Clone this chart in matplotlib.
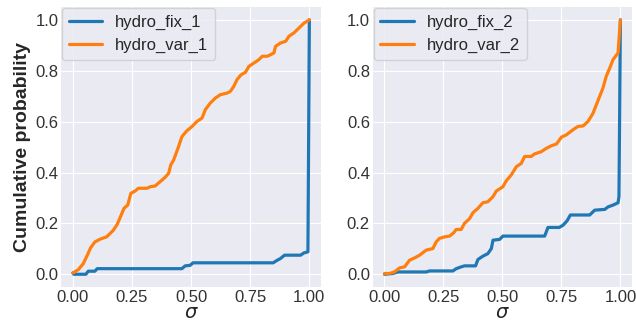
import numpy as np
import matplotlib
matplotlib.use("Agg")
import matplotlib.pyplot as plt

# empirical CDF breakpoints (sigma, cumulative probability)
fix_1_x = [0.0, 0.004, 0.055, 0.065, 0.093, 0.103, 0.461, 0.475, 0.496, 0.508,
           0.847, 0.864, 0.878, 0.895, 0.963, 0.977, 0.994, 1.0]
fix_1_y = [0.005, 0.0, 0.0, 0.012, 0.012, 0.022, 0.022, 0.033, 0.035, 0.045,
           0.045, 0.055, 0.062, 0.075, 0.075, 0.084, 0.088, 1.0]

var_1_x = [0.0, 0.023, 0.044, 0.061, 0.075, 0.093, 0.115, 0.143, 0.171, 0.188,
           0.207, 0.216, 0.232, 0.245, 0.263, 0.277, 0.313, 0.327, 0.348, 0.369,
           0.390, 0.405, 0.414, 0.426, 0.447, 0.461, 0.482, 0.504, 0.525, 0.546,
           0.560, 0.581, 0.603, 0.624, 0.652, 0.666, 0.680, 0.694, 0.711, 0.730,
           0.744, 0.765, 0.787, 0.801, 0.822, 0.836, 0.850, 0.857, 0.878, 0.900,
           0.914, 0.935, 0.956, 0.977, 1.0]
var_1_y = [0.005, 0.018, 0.042, 0.075, 0.104, 0.127, 0.138, 0.147, 0.173, 0.197,
           0.239, 0.259, 0.272, 0.318, 0.327, 0.338, 0.338, 0.344, 0.347, 0.364,
           0.381, 0.397, 0.430, 0.449, 0.502, 0.541, 0.564, 0.581, 0.601, 0.614,
           0.647, 0.673, 0.693, 0.706, 0.712, 0.719, 0.738, 0.765, 0.784, 0.794,
           0.817, 0.830, 0.844, 0.857, 0.857, 0.863, 0.870, 0.896, 0.909, 0.916,
           0.936, 0.949, 0.968, 0.987, 1.0]

fix_2_x = [0.0, 0.035, 0.057, 0.177, 0.191, 0.290, 0.304, 0.325, 0.339, 0.386,
           0.396, 0.417, 0.438, 0.453, 0.460, 0.488, 0.502, 0.679, 0.693, 0.741,
           0.757, 0.774, 0.788, 0.870, 0.891, 0.934, 0.948, 0.969, 0.990, 0.994,
           1.0]
fix_2_y = [0.0, 0.003, 0.009, 0.009, 0.013, 0.013, 0.022, 0.029, 0.033, 0.033,
           0.058, 0.071, 0.081, 0.101, 0.134, 0.137, 0.150, 0.150, 0.184, 0.184,
           0.193, 0.210, 0.233, 0.233, 0.252, 0.255, 0.265, 0.272, 0.281, 0.305,
           1.0]

var_2_x = [0.0, 0.021, 0.042, 0.064, 0.085, 0.106, 0.127, 0.149, 0.177, 0.205,
           0.219, 0.233, 0.255, 0.276, 0.293, 0.304, 0.325, 0.339, 0.361, 0.375,
           0.396, 0.417, 0.438, 0.460, 0.474, 0.502, 0.516, 0.537, 0.559, 0.580,
           0.594, 0.622, 0.636, 0.665, 0.686, 0.707, 0.729, 0.750, 0.771, 0.799,
           0.820, 0.842, 0.863, 0.884, 0.898, 0.912, 0.926, 0.940, 0.955, 0.969,
           0.990, 1.0]
var_2_y = [0.003, 0.003, 0.009, 0.025, 0.029, 0.055, 0.064, 0.075, 0.095, 0.101,
           0.127, 0.141, 0.147, 0.150, 0.163, 0.176, 0.176, 0.200, 0.219, 0.242,
           0.259, 0.281, 0.285, 0.305, 0.327, 0.344, 0.367, 0.390, 0.423, 0.436,
           0.463, 0.463, 0.473, 0.482, 0.495, 0.505, 0.512, 0.539, 0.548, 0.568,
           0.581, 0.583, 0.601, 0.633, 0.666, 0.699, 0.732, 0.778, 0.811, 0.844,
           0.870, 1.0]

ticks_x = [0.0, 0.25, 0.5, 0.75, 1.0]
ticks_y = [0.0, 0.2, 0.4, 0.6, 0.8, 1.0]

plt.style.use("seaborn-v0_8-darkgrid")
plt.rcParams["font.family"] = ["Liberation Sans", "DejaVu Sans"]
plt.rcParams["font.size"] = 12

fig = plt.figure(figsize=(6.36, 3.25), dpi=100)
ax1 = fig.add_axes([0.096, 0.117, 0.409, 0.861])
ax2 = fig.add_axes([0.586, 0.117, 0.408, 0.861])

panels = [
    (ax1, fix_1_x, fix_1_y, var_1_x, var_1_y, "1"),
    (ax2, fix_2_x, fix_2_y, var_2_x, var_2_y, "2"),
]
for ax, fx, fy, vx, vy, n in panels:
    ax.plot(fx, fy, color="#1f77b4", lw=2.3, label="hydro_fix_" + n)
    ax.plot(vx, vy, color="#ff7f0e", lw=2.3, label="hydro_var_" + n)
    ax.set_xlim(-0.05, 1.05)
    ax.set_ylim(-0.05, 1.05)
    ax.set_xticks(ticks_x)
    ax.set_yticks(ticks_y)
    ax.tick_params(labelsize=12, colors="#333333", pad=2)
    ax.set_xlabel(r"$\sigma$", fontsize=14, labelpad=0)
    ax.legend(loc="upper left", fontsize=12, frameon=True,
              borderaxespad=0.05, handlelength=2.0)

ax1.set_ylabel("Cumulative probability", fontsize=14, fontweight="bold",
               labelpad=3)

fig.savefig("out.png", dpi=100)
